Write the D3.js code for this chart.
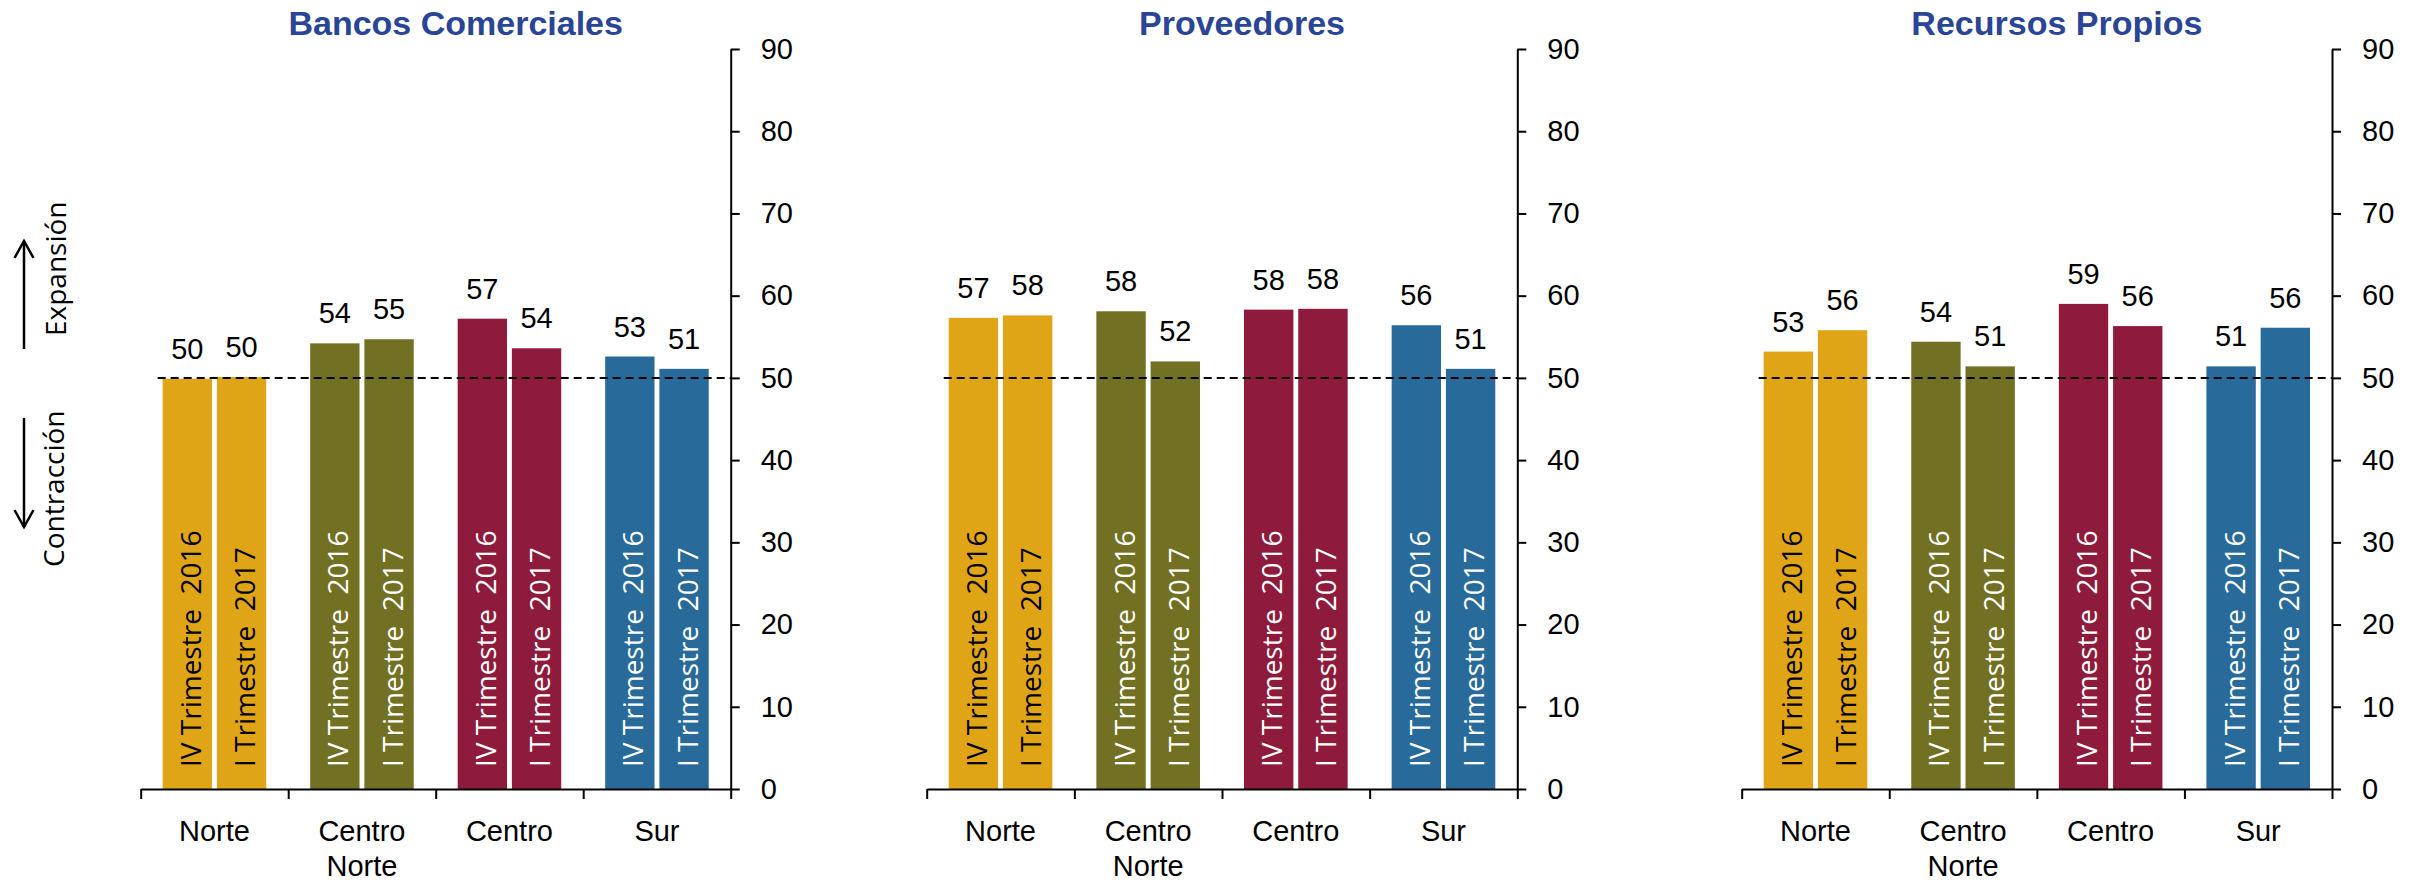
<!DOCTYPE html>
<html>
<head>
<meta charset="utf-8">
<script src="https://cdn.jsdelivr.net/npm/d3@7"></script>
<style>
  html, body { margin: 0; padding: 0; background: #fff; }
  svg { display: block; }
  .tick text { font-family: "Liberation Sans", Arial, sans-serif; }
</style>
</head>
<body>
<svg id="chart" width="2414" height="883"></svg>
<script>
// ---------- data ----------
const panelTitles = ["Bancos Comerciales", "Proveedores", "Recursos Propios"];
const regions = ["Norte", "Centro Norte", "Centro", "Sur"];
const regionLabelLines = [["Norte"], ["Centro", "Norte"], ["Centro"], ["Sur"]];
const periods = ["IV Trimestre  2016", "I Trimestre  2017"];
const bancosIV2016 = [49.9, 54.2, 57.2, 52.6];
const bancosI2017 = [50.1, 54.7, 53.6, 51.1];
const proveedoresIV2016 = [57.3, 58.1, 58.3, 56.4];
const proveedoresI2017 = [57.6, 52.0, 58.4, 51.1];
const recursosIV2016 = [53.2, 54.4, 59.0, 51.4];
const recursosI2017 = [55.8, 51.4, 56.3, 56.1];
const yTickValues = [0, 10, 20, 30, 40, 50, 60, 70, 80, 90];
const threshold = 50;
const regionColors = ["#DFA516", "#727023", "#8E1B3B", "#286A99"];
const labelColors = ["#000000", "#ffffff", "#ffffff", "#ffffff"];

const panelSeries = [
  [bancosIV2016, bancosI2017],
  [proveedoresIV2016, proveedoresI2017],
  [recursosIV2016, recursosI2017]
];

// ---------- layout ----------
const svg = d3.select("#chart");
const panelRanges = [[140.7, 730.7], [926.7, 1517.3], [1741.7, 2332]];
const yTop = 49, yBottom = 789;
const numFont = '"Liberation Sans", Arial, sans-serif';
const inFont = '"Open Sans", "Noto Sans", sans-serif';

const y = d3.scaleLinear().domain([0, 90]).range([yBottom, yTop]);

panelTitles.forEach((title, pi) => {
  const [x0, x1] = panelRanges[pi];
  const g = svg.append("g");
  const x = d3.scaleBand().domain(regions).range([x0, x1]).paddingInner(0).paddingOuter(0);
  const bw = x.bandwidth();
  const xs = d3.scaleBand().domain(periods).range([0.149 * bw, 0.851 * bw]).paddingInner(0.09);

  const rows = [];
  regions.forEach((r, ri) => {
    periods.forEach((p, si) => {
      rows.push({ region: r, ri, period: p, si, value: panelSeries[pi][si][ri] });
    });
  });

  // bars
  g.selectAll("rect.bar").data(rows).join("rect")
    .attr("class", "bar")
    .attr("x", d => x(d.region) + xs(d.period))
    .attr("width", xs.bandwidth())
    .attr("y", d => y(d.value))
    .attr("height", d => y(0) - y(d.value))
    .attr("fill", d => regionColors[d.ri]);

  // in-bar rotated labels
  g.selectAll("text.inbar").data(rows).join("text")
    .attr("class", "inbar")
    .attr("transform", d => {
      const cx = x(d.region) + xs(d.period) + xs.bandwidth() / 2;
      return `translate(${cx + 13.5},${yBottom - 22}) rotate(-90)`;
    })
    .attr("text-anchor", "start")
    .style("white-space", "pre")
    .attr("font-family", inFont)
    .attr("font-size", 28)
    .attr("fill", d => labelColors[d.ri])
    .text(d => d.period);

  // value labels
  g.selectAll("text.val").data(rows).join("text")
    .attr("class", "val")
    .attr("x", d => x(d.region) + xs(d.period) + xs.bandwidth() / 2)
    .attr("y", d => y(d.value) - 20)
    .attr("text-anchor", "middle")
    .attr("font-family", numFont)
    .attr("font-size", 29)
    .attr("fill", "#000")
    .text(d => d3.format(".0f")(d.value));

  // threshold dashed line
  g.append("line")
    .attr("x1", x(regions[0]) + xs(periods[0]) - 5)
    .attr("x2", x1)
    .attr("y1", y(threshold))
    .attr("y2", y(threshold))
    .attr("stroke", "#000")
    .attr("stroke-width", 2)
    .attr("stroke-dasharray", "8,5");

  // x axis (edge ticks)
  const xEdge = d3.scaleLinear().domain([0, regions.length]).range([x0, x1]);
  const xAxisG = g.append("g")
    .attr("transform", `translate(0,${yBottom})`)
    .call(d3.axisBottom(xEdge).tickValues(d3.range(regions.length + 1)).tickSize(10).tickSizeOuter(0).tickFormat(""));
  xAxisG.select(".domain").attr("stroke", "#000").attr("stroke-width", 2);
  xAxisG.selectAll(".tick line").attr("stroke", "#000").attr("stroke-width", 2);

  // category labels
  regions.forEach((r, ri) => {
    const t = g.append("text")
      .attr("text-anchor", "middle")
      .attr("font-family", numFont)
      .attr("font-size", 29)
      .attr("fill", "#000");
    regionLabelLines[ri].forEach((line, li) => {
      t.append("tspan")
        .attr("x", x(r) + bw / 2)
        .attr("y", 841 + li * 35)
        .text(line);
    });
  });

  // y axis on right
  const yAxisG = g.append("g")
    .attr("transform", `translate(${x1},0)`)
    .call(d3.axisRight(y).tickValues(yTickValues).tickSize(9).tickSizeOuter(0).tickPadding(21));
  yAxisG.select(".domain").attr("stroke", "#000").attr("stroke-width", 2);
  yAxisG.selectAll(".tick line").attr("stroke", "#000").attr("stroke-width", 2);
  yAxisG.selectAll(".tick text")
    .attr("font-family", numFont)
    .attr("font-size", 29)
    .attr("fill", "#000");

  // title
  g.append("text")
    .attr("x", (x0 + x1) / 2 + 20)
    .attr("y", 35)
    .attr("text-anchor", "middle")
    .attr("font-family", numFont)
    .attr("font-weight", "bold")
    .attr("font-size", 34)
    .attr("fill", "#2A4596")
    .text(title);
});

// left side indicators
const side = svg.append("g").attr("stroke", "#000").attr("stroke-width", 2.5).attr("fill", "none");
side.append("line").attr("x1", 24).attr("x2", 24).attr("y1", 241).attr("y2", 349);
side.append("polyline").attr("points", "14.5,258 24,241 33.5,258");
side.append("line").attr("x1", 24).attr("x2", 24).attr("y1", 418).attr("y2", 527);
side.append("polyline").attr("points", "14.5,510 24,527 33.5,510");

svg.append("text")
  .attr("transform", "translate(66,336) rotate(-90)")
  .attr("font-family", inFont)
  .attr("font-size", 28)
  .attr("fill", "#000")
  .text("Expansión");
svg.append("text")
  .attr("transform", "translate(64,567) rotate(-90)")
  .attr("font-family", inFont)
  .attr("font-size", 28)
  .attr("fill", "#000")
  .text("Contracción");
</script>
</body>
</html>
